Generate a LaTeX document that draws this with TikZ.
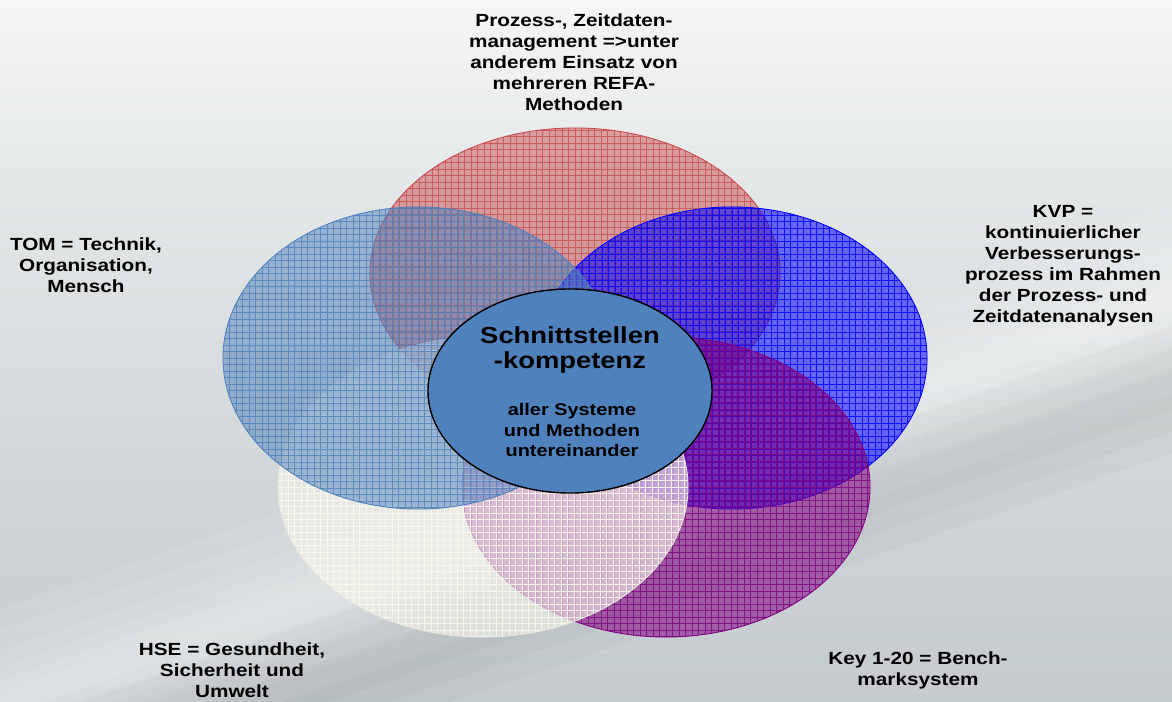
\documentclass[tikz,border=0pt]{standalone}
\usepackage{fontspec}
\setmainfont{Liberation Sans}[FakeStretch=1.18]
\usetikzlibrary{shapes.geometric}
\definecolor{cred}{HTML}{C8484C}
\definecolor{csteel}{HTML}{4F81BD}
\definecolor{cblue}{HTML}{0000FF}
\definecolor{cpurple}{HTML}{800080}
\definecolor{ccream}{HTML}{F4F3EA}
\definecolor{ccreamline}{HTML}{FBF9EC}
\definecolor{bgbot}{HTML}{B3BBC1}
\definecolor{bgmid}{HTML}{CBD1D4}
\definecolor{bgup}{HTML}{E4E7E8}
\pgfdeclareverticalshading{bgshade}{100bp}{color(0bp)=(bgbot); color(35bp)=(bgmid); color(62bp)=(bgup); color(82bp)=(white!96!bgup); color(100bp)=(white)}
\begin{document}
\begin{tikzpicture}[x=0.025cm,y=0.025cm,
  venn/.style n args={4}{ellipse, inner sep=0pt, draw=#1, line width=0.6pt,
    fill=#1, fill opacity=#2,
    path picture={\draw[#3, line width=0.55pt, draw opacity=#4]
      (path picture bounding box.south west) grid[step=0.1625cm]
      (path picture bounding box.north east);}},
  lbl/.style={align=center, inner sep=0pt, text=black,
    font=\bfseries\fontsize{12.5}{14.9}\selectfont},
  band/.style={white, fill opacity=0.09}]
\useasboundingbox (0,0) rectangle (1172,702);
% background
\shade[shading=bgshade] (0,0) rectangle (1172,702);
\begin{scope}
\clip (0,0) rectangle (1172,702);
\foreach \h in {90,70,50,35,22,12}{
  \fill[band, rotate around={19:(586,200)}] (-200,200-\h) rectangle (1400,200+\h);
}
\foreach \h in {60,40,20}{
  \fill[black, fill opacity=0.025, rotate around={19:(586,110)}] (-200,110-\h) rectangle (1400,110+\h);
}
\end{scope}
% circles
\node[venn={cred}{0.48}{cred}{0.75}, minimum width=10.25cm, minimum height=7.25cm] (prozess) at (575,429) {};
\node[venn={cblue}{0.55}{cblue}{0.8}, minimum width=9.75cm, minimum height=7.55cm] (kvp) at (732,344) {};
\node[venn={cpurple}{0.55}{cpurple}{0.8}, minimum width=10.2cm, minimum height=7.5cm] (key) at (666,215) {};
\node[venn={ccream}{0.62}{ccreamline}{0.9}, draw=ccream!90!gray, minimum width=10.25cm, minimum height=7.5cm] (hse) at (483,215) {};
\node[venn={csteel}{0.5}{csteel}{0.8}, minimum width=9.75cm, minimum height=7.55cm] (tom) at (418,344) {};
\node[ellipse, inner sep=0pt, fill=csteel, draw=black, line width=1pt, minimum width=7.1cm, minimum height=5.1cm] (center) at (570,311) {};
% texts
\node[align=center, inner sep=0pt, font=\bfseries\fontsize{16.5}{17.8}\selectfont] (title) at (570,352) {Schnittstellen\\-kompetenz};
\node[align=center, inner sep=0pt, font=\bfseries\fontsize{12}{14.7}\selectfont] (sub) at (572,272) {aller Systeme\\und Methoden\\untereinander};
\node[lbl] (tprozess) at (574,640) {Prozess-, Zeitdaten-\\management =>unter\\anderem Einsatz von\\mehreren REFA-\\Methoden};
\node[lbl] (ttom) at (86,437) {TOM = Technik,\\Organisation,\\Mensch};
\node[lbl] (tkvp) at (1063,436) {KVP =\\kontinuierlicher\\Verbesserungs-\\prozess im Rahmen\\der Prozess- und\\Zeitdatenanalysen};
\node[lbl] (thse) at (232,32) {HSE = Gesundheit,\\Sicherheit und\\Umwelt};
\node[lbl] (tkey) at (918,32) {Key 1-20 = Bench-\\marksystem};
\end{tikzpicture}
\end{document}
